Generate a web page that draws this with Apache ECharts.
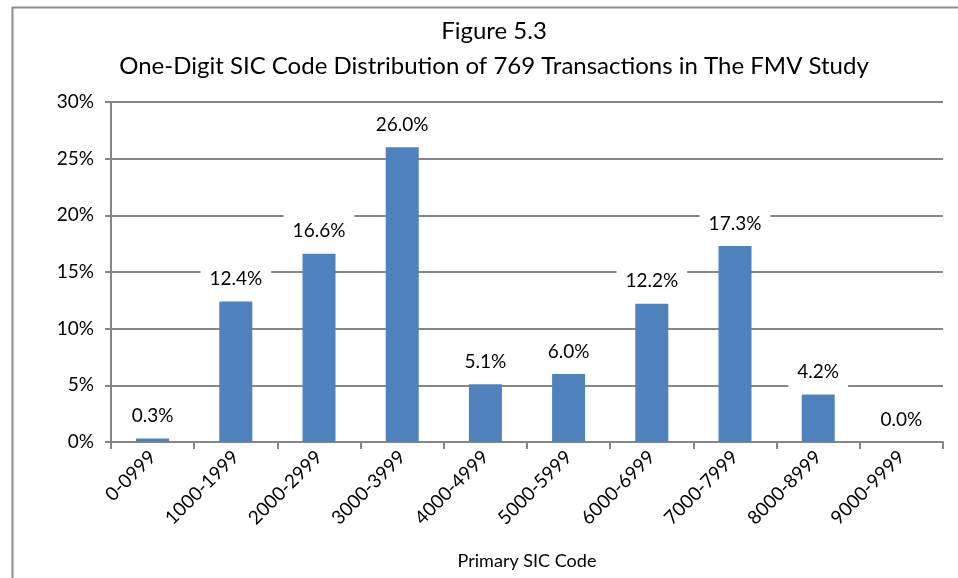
<!DOCTYPE html>
<html>
<head>
<meta charset="utf-8">
<script src="https://cdn.jsdelivr.net/npm/echarts@6/dist/echarts.min.js"></script>
<style>
  html, body { margin: 0; padding: 0; background: #fff; }
  #chart { width: 958px; height: 578px; }
</style>
</head>
<body>
<div id="chart"></div>
<script>
// SIC 区间与占比（%）
var sicCodes = ['0-0999', '1000-1999', '2000-2999', '3000-3999', '4000-4999',
                '5000-5999', '6000-6999', '7000-7999', '8000-8999', '9000-9999'];
var sharePct = [0.3, 12.4, 16.6, 26.0, 5.1, 6.0, 12.2, 17.3, 4.2, 0.0];
var titleLines = ['Figure 5.3', 'One-Digit SIC Code Distribution of 769 Transactions in The FMV Study'];

var font = 'Lato, "Open Sans", sans-serif';
var axisGray = '#868686';

var chart = echarts.init(document.getElementById('chart'));
var option = {
    animation: false,
    backgroundColor: '#fff',
    textStyle: { fontFamily: font },
    graphic: [{
        // 外框
        type: 'rect',
        left: 10, top: 5,
        shape: { width: 1000, height: 700 },
        style: { fill: 'none', stroke: '#8c8c8c', lineWidth: 2 },
        silent: true
    }],
    title: {
        text: titleLines.join('\n'),
        left: 489, top: 9,
        textAlign: 'center',
        textStyle: { fontFamily: font, fontSize: 24, fontWeight: 'normal', color: '#000', lineHeight: 35 }
    },
    grid: { left: 111, right: 15, top: 102, bottom: 136 },
    xAxis: {
        type: 'category',
        data: sicCodes,
        name: 'Primary SIC Code',
        nameLocation: 'middle',
        nameGap: 110,
        nameTextStyle: { fontFamily: font, fontSize: 18, color: '#000' },
        axisLine: { lineStyle: { color: axisGray, width: 2 } },
        axisTick: { show: true, length: 7, lineStyle: { color: axisGray, width: 2 } },
        axisLabel: { rotate: 45, fontFamily: font, fontSize: 19, color: '#000', margin: 12 }
    },
    yAxis: {
        type: 'value',
        min: 0, max: 30, interval: 5,
        axisLine: { show: true, lineStyle: { color: axisGray, width: 2 } },
        axisTick: { show: true, length: 6, lineStyle: { color: axisGray, width: 2 } },
        splitLine: { lineStyle: { color: axisGray, width: 2 } },
        axisLabel: { formatter: '{value}%', fontFamily: font, fontSize: 19, color: '#000', margin: 17 }
    },
    series: [{
        type: 'bar',
        data: sharePct,
        barWidth: 33,
        itemStyle: { color: '#4F81BD' },
        label: {
            show: true,
            position: 'top',
            distance: 5,
            formatter: function (p) { return p.value.toFixed(1) + '%'; },
            fontFamily: font, fontSize: 19, color: '#000',
            backgroundColor: '#fff',
            padding: [9, 9, 8, 9]
        }
    }]
};
chart.setOption(option);
</script>
</body>
</html>
